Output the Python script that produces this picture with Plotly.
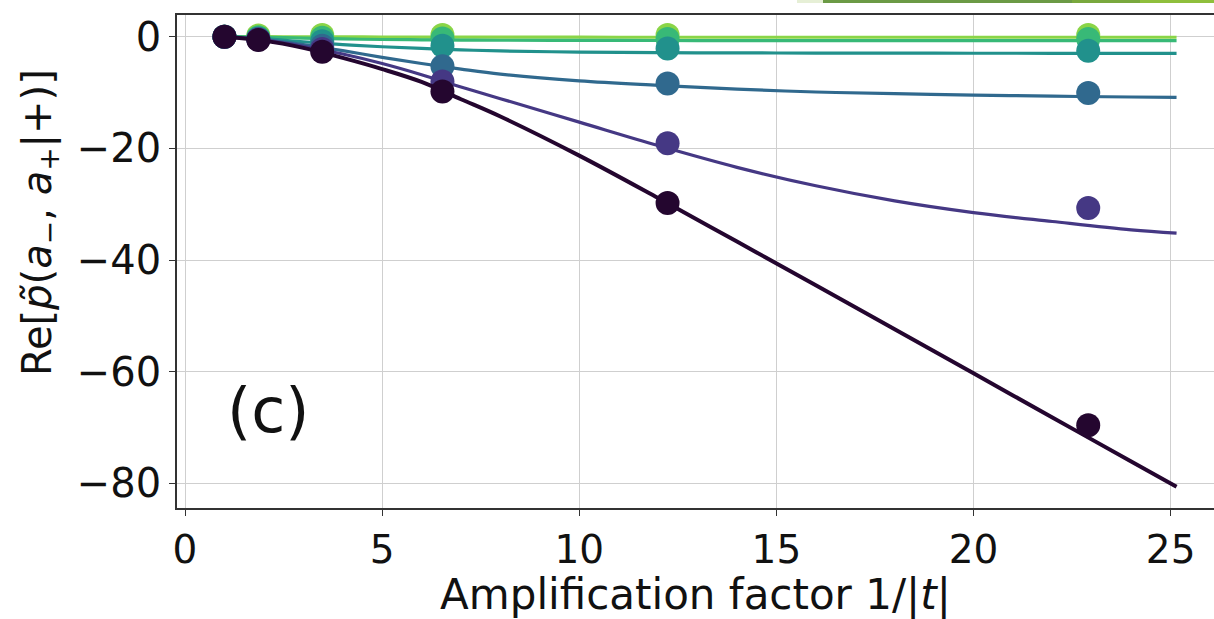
import plotly.graph_objects as go

# ---- data ----
x_pts = [1.0, 1.86, 3.48, 6.53, 12.24, 22.91]
x_curve = [1, 2, 3, 4, 5, 6, 7, 8, 10, 12, 14, 16, 18, 20, 22, 24, 25.15]

names = ["s6", "s5", "s4", "s3", "s2", "s1"]
colors = ["#8ad547", "#38b977", "#21918c", "#30698e", "#453884", "#24062f"]

pts_lightgreen = [0, 0.2, 0.3, 0.3, 0.3, 0.3]
pts_green = [0, -0.1, -0.2, -0.3, -0.4, -0.4]
pts_teal = [0, -0.3, -0.8, -1.6, -2.1, -2.5]
pts_blue = [0, -0.4, -1.6, -5.3, -8.4, -10.1]
pts_purple = [0, -0.5, -2.2, -8.0, -19.1, -30.7]
pts_dark = [0, -0.6, -2.7, -9.8, -29.8, -69.6]

cur_lightgreen = [0, 0, -0.02, -0.04, -0.05, -0.06, -0.07, -0.08, -0.09, -0.1, -0.1, -0.1, -0.1, -0.1, -0.1, -0.1, -0.1]
cur_green = [0, -0.1, -0.25, -0.4, -0.5, -0.55, -0.6, -0.63, -0.66, -0.68, -0.69, -0.7, -0.7, -0.7, -0.7, -0.7, -0.7]
cur_teal = [0, -0.35, -0.9, -1.4, -1.8, -2.1, -2.35, -2.55, -2.75, -2.85, -2.9, -2.93, -2.95, -2.96, -2.97, -2.98, -2.98]
cur_blue = [0, -0.5, -1.4, -2.5, -3.7, -4.8, -5.8, -6.7, -7.9, -8.7, -9.4, -9.9, -10.2, -10.45, -10.65, -10.8, -10.86]
cur_purple = [0, -0.6, -1.7, -3.1, -4.8, -6.8, -9.0, -11.1, -15.3, -19.5, -23.4, -26.7, -29.4, -31.5, -33.1, -34.6, -35.2]
cur_dark = [0, -0.7, -2.0, -3.8, -5.8, -8.1, -11.2, -14.3, -21.3, -28.9, -36.7, -44.5, -52.4, -60.3, -68.2, -76.1, -80.6]

x_ticks = [0, 5, 10, 15, 20, 25]
y_ticks = [-80, -60, -40, -20, 0]

points = [pts_lightgreen, pts_green, pts_teal, pts_blue, pts_purple, pts_dark]
curves = [cur_lightgreen, cur_green, cur_teal, cur_blue, cur_purple, cur_dark]

FONT = "DejaVu Sans"
fig = go.Figure()
for i in range(len(names)):
    fig.add_trace(go.Scatter(x=x_curve, y=curves[i], mode="lines", line_shape="spline",
                             line=dict(color=colors[i], width=4 if i == 5 else 3.2),
                             showlegend=False, hoverinfo="skip"))
    fig.add_trace(go.Scatter(x=x_pts, y=points[i], mode="markers",
                             marker=dict(color=colors[i], size=24, line=dict(width=0)),
                             showlegend=False))

fig.update_layout(
    width=1214, height=619,
    margin=dict(l=177, r=0, t=15, b=111),
    plot_bgcolor="white", paper_bgcolor="white",
    font=dict(family=FONT, color="#111111"),
    xaxis=dict(range=[-0.203, 26.1], tickvals=x_ticks, ticks="outside", ticklen=6,
               tickwidth=1.3, tickcolor="#333", showline=True, mirror=True,
               linecolor="#333", linewidth=1.5, showgrid=True, gridcolor="#cfcfcf",
               gridwidth=1.3, zeroline=False, tickfont=dict(size=39, family=FONT),
               automargin=False,
               title=dict(text="Amplification factor 1/|<i>t</i>|", font=dict(size=42, family=FONT), standoff=4)),
    yaxis=dict(range=[-84.42, 3.89], tickvals=y_ticks, ticks="outside", ticklen=6,
               tickwidth=1.3, tickcolor="#333", showline=True, mirror=False,
               linecolor="#333", linewidth=1.5, showgrid=True, gridcolor="#cfcfcf",
               gridwidth=1.3, zeroline=False, tickfont=dict(size=40, family=FONT),
               automargin=False),
)

fig.add_annotation(text="Re[<i>p̃</i>(<i>a</i><sub>−</sub>, <i>a</i><sub>+</sub>|+)]",
                   xref="paper", yref="paper", x=(40 - 177) / 1037, y=(508 - 223) / 493,
                   xanchor="center", yanchor="middle", textangle=-90, showarrow=False,
                   font=dict(size=40, family=FONT))
fig.add_annotation(text="(c)", xref="x", yref="y", x=2.1, y=-66.9, showarrow=False,
                   xanchor="center", yanchor="middle", font=dict(size=62, family=FONT))

# cropped strip of neighbouring panel at the very top
strip = [(797, 823, "#e6efd6"), (823, 1072, "#6b9a45"), (1072, 1140, "#79a83d"), (1140, 1214, "#8fbf3c")]
for x0, x1, c in strip:
    fig.add_shape(type="rect", xref="paper", yref="paper",
                  x0=(x0 - 177) / 1037, x1=(x1 - 177) / 1037,
                  y0=1 + 12 / 493, y1=1 + 15 / 493, line=dict(width=0), fillcolor=c)

fig.write_html("out.html", config={"displayModeBar": False},
               post_script="document.body.style.margin='0';document.body.style.overflow='hidden';")
